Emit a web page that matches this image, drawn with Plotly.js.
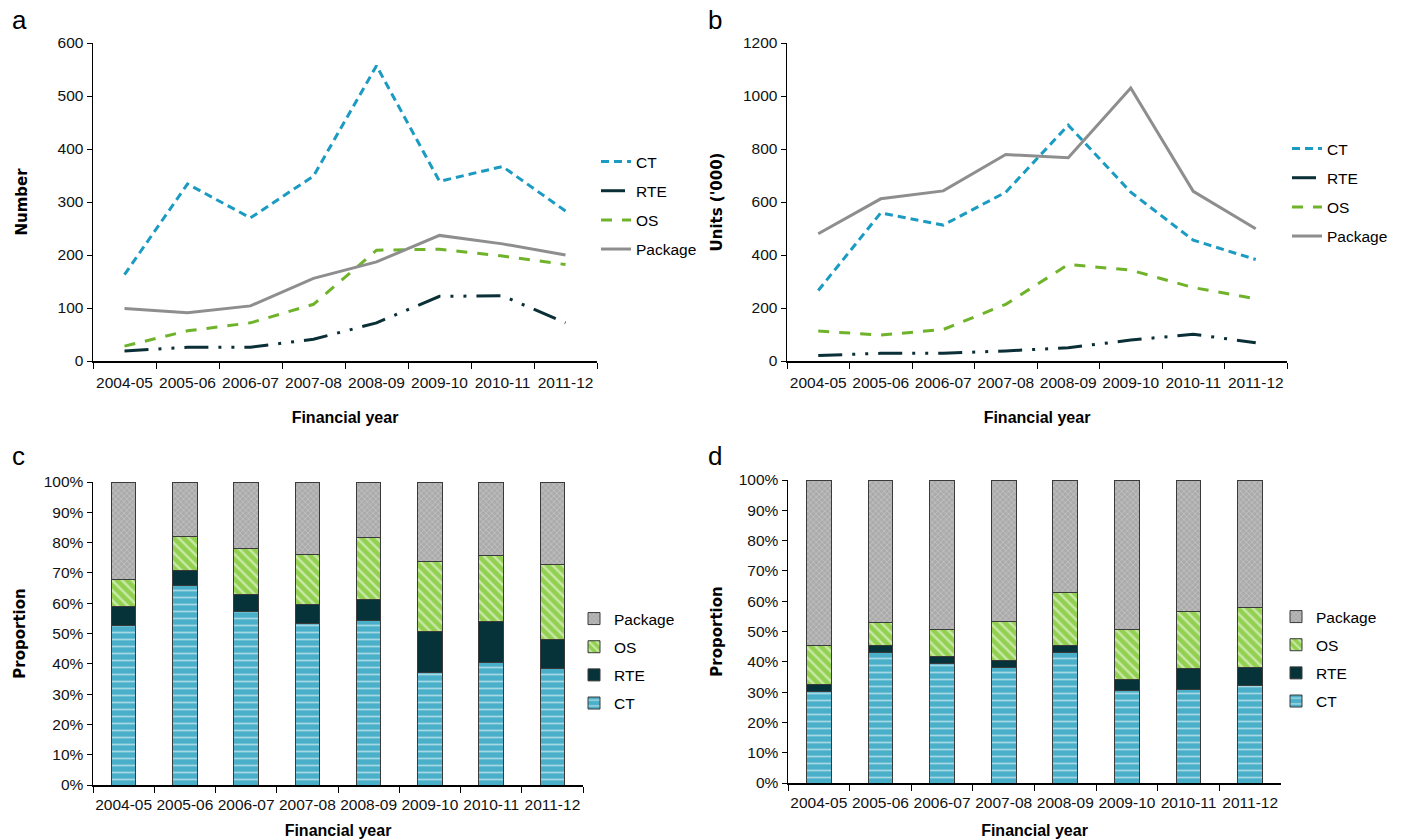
<!DOCTYPE html>
<html>
<head>
<meta charset="utf-8">
<script src="https://cdn.plot.ly/plotly-3.0.1.min.js"></script>
<style>html,body{margin:0;padding:0;background:#fff;}#chart{width:1408px;height:839px;}</style>
</head>
<body>
<div id="chart"></div>
<script>
// Categories
const years = ['2004-05','2005-06','2006-07','2007-08','2008-09','2009-10','2010-11','2011-12'];

// Panel a: Number
const ctNumber  = [163, 334, 270, 349, 557, 339, 367, 283];
const rteNumber = [19, 26, 26, 41, 72, 122, 123, 72];
const osNumber  = [28, 57, 72, 107, 209, 211, 198, 182];
const pkgNumber = [99, 91, 104, 156, 187, 237, 221, 200];

// Panel b: Units ('000)
const ctUnits  = [266, 559, 513, 637, 890, 637, 456, 383];
const rteUnits = [21, 29, 29, 38, 50, 79, 101, 69];
const osUnits  = [113, 98, 119, 214, 364, 343, 277, 235];
const pkgUnits = [480, 612, 642, 779, 767, 1030, 640, 499];

const seriesNames = ['CT', 'RTE', 'OS', 'Package'];

const FONT = 'Liberation Sans, Arial, sans-serif';
const YFONT = 'DejaVu Sans, Verdana, sans-serif';
const lineCol = {CT:'#1b9bc2', RTE:'#0b2f36', OS:'#6fb32b', Package:'#8e8e8e'};
const lineDash = {CT:'8px,5px', RTE:'24px,10px,3px,10px,3px,10px', OS:'11px,10px', Package:'solid'};
const barRank = {CT:4, RTE:3, OS:2, Package:1};
const barStyle = {
  CT: {bg:'#4aafc8', fg:'#ffffff', shape:'-', size:7, solidity:0.25},
  RTE: {bg:'#06323a', fg:'#06323a', shape:'', size:8, solidity:0.3},
  OS: {bg:'#92d050', fg:'#ffffff', shape:'\\', size:7, solidity:0.35},
  Package: {bg:'#ababab', fg:'#dcdcdc', shape:'x', size:4, solidity:0.35}
};

function lineTraces(arrs, xa, ya, leg) {
  return seriesNames.map((n, i) => ({
    type:'scatter', mode:'lines', name:n, x:years, y:arrs[i],
    xaxis:xa, yaxis:ya, legend:leg, legendgroup:leg+n,
    line:{color:lineCol[n], width:3, dash:lineDash[n]},
    hoverinfo:'x+y+name'
  }));
}
function barTraces(arrs, xa, ya, leg) {
  return seriesNames.map((n, i) => {
    const s = barStyle[n];
    const marker = {color:s.bg, line:{color:'#3a3a3a', width:1}};
    if (s.shape) marker.pattern = {shape:s.shape, bgcolor:s.bg, fgcolor:s.fg, size:s.size, solidity:s.solidity, fillmode:'overlay'};
    return {type:'bar', name:n, x:years, y:arrs[i], xaxis:xa, yaxis:ya,
      legend:leg, legendgroup:leg+n, legendrank:barRank[n], marker:marker};
  });
}

const data = [].concat(
  lineTraces([ctNumber, rteNumber, osNumber, pkgNumber], 'x', 'y', 'legend'),
  lineTraces([ctUnits, rteUnits, osUnits, pkgUnits], 'x2', 'y2', 'legend2'),
  barTraces([ctNumber, rteNumber, osNumber, pkgNumber], 'x3', 'y3', 'legend3'),
  barTraces([ctUnits, rteUnits, osUnits, pkgUnits], 'x4', 'y4', 'legend4')
);

const tickFont = {family:FONT, size:15.5, color:'#111'};
const xTitleFont = {family:FONT, size:16, color:'#000', weight:'bold'};
const yTitleFont = {family:YFONT, size:15, color:'#000', weight:'bold'};
function xAxis(dom, anchor, lblOff, standoff) {
  return {domain:dom, anchor:anchor, type:'category', range:[-0.5,7.5],
    showline:true, linecolor:'#000', linewidth:1.5, ticks:'outside', ticklen:6, tickcolor:'#000',
    tickson:'boundaries', showgrid:false, zeroline:false, tickfont:tickFont, tickangle:0,
    ticklabelstandoff:lblOff,
    title:{text:'Financial year', font:xTitleFont, standoff:standoff}};
}
function yAxis(dom, anchor, range, dtick, title, suffix, standoff) {
  return {domain:dom, anchor:anchor, range:range, dtick:dtick, tick0:0,
    showline:true, linecolor:'#000', linewidth:1.5, ticks:'outside', ticklen:5, tickcolor:'#000',
    showgrid:false, zeroline:false, tickfont:tickFont, ticksuffix:suffix||'',
    title:{text:title, font:yTitleFont, standoff:standoff}};
}
function legend(xpx, ypx, gap) {
  return {x:xpx/1408, y:1-ypx/839, xanchor:'left', yanchor:'top', bgcolor:'rgba(0,0,0,0)',
    font:{family:FONT, size:15.5, color:'#000'}, traceorder:'grouped', tracegroupgap:gap};
}
function lbl(t, xpx, ypx) {
  return {text:t, x:xpx/1408, y:1-ypx/839, xref:'paper', yref:'paper', showarrow:false,
    xanchor:'left', yanchor:'middle', font:{family:FONT, size:26, color:'#000'}};
}

const layout = {
  width:1408, height:839, margin:{l:0, r:0, t:0, b:0},
  paper_bgcolor:'#fff', plot_bgcolor:'#fff',
  font:{family:FONT, size:14, color:'#000'},
  barmode:'stack', barnorm:'percent', bargap:0.6, showlegend:true,
  xaxis: xAxis([93/1408, 597/1408], 'y', 7, 21),
  yaxis: yAxis([1-361/839, 1-43/839], 'x', [0,600], 100, 'Number', '', 26),
  xaxis2: xAxis([787/1408, 1287/1408], 'y2', 7, 21),
  yaxis2: yAxis([1-361/839, 1-43/839], 'x2', [0,1200], 200, "Units ('000)", '', 16),
  xaxis3: xAxis([93/1408, 583/1408], 'y3', 5, 25),
  yaxis3: yAxis([1-785/839, 1-482/839], 'x3', [0,100], 10, 'Proportion', '%', 14),
  xaxis4: xAxis([788/1408, 1281/1408], 'y4', 5, 25),
  yaxis4: yAxis([1-783/839, 1-480/839], 'x4', [0,100], 10, 'Proportion', '%', 12),
  legend: legend(596, 145, 6),
  legend2: legend(1287, 132, 6),
  legend3: legend(574, 602, 5),
  legend4: legend(1276, 600, 5),
  annotations:[lbl('a', 10, 20), lbl('b', 706, 20), lbl('c', 10, 456), lbl('d', 706, 456)]
};

Plotly.newPlot('chart', data, layout, {displayModeBar:false, staticPlot:true});
</script>
</body>
</html>
